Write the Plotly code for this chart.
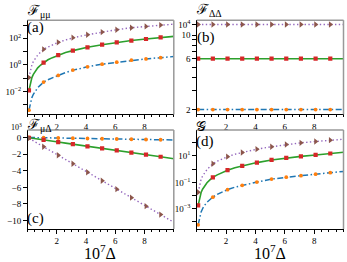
import plotly.graph_objects as go

# ---------------- data ----------------
x_line = [0.1, 0.2, 0.3, 0.4, 0.5, 0.7, 0.9, 1.1, 1.4, 1.7, 2.1, 2.6, 3.1, 3.6,
          4.1, 5.1, 6.1, 7.1, 8.1, 9.1, 10.0]
marker_idx = [0, 7, 10, 12, 14, 15, 16, 17, 18, 19]   # x = 0.1, 1.1, ..., 9.1

# (a) F_mumu
a_blue = [0.00038, 0.0015, 0.0034, 0.006, 0.0095, 0.019, 0.031, 0.05, 0.075, 0.11, 0.16,
          0.26, 0.40, 0.52, 0.71, 1.12, 1.58, 2.24, 2.8, 3.5, 4.2]
a_green = [0.012, 0.048, 0.11, 0.19, 0.30, 0.59, 0.97, 1.48, 2.4, 3.5, 5.5,
           8.4, 11.8, 16.0, 21.0, 33.0, 50.0, 68.0, 89.0, 118.0, 141.0]
a_purple = [0.11, 0.45, 1.0, 1.8, 2.8, 5.5, 9.1, 14.8, 22.0, 32.0, 50.0,
            76.0, 112.0, 145.0, 186.0, 295.0, 447.0, 631.0, 794.0, 1000.0, 1175.0]

# (b) F_DeltaDelta
b_blue = [2.0] * len(x_line)
b_green = [6.0] * len(x_line)
b_purple = [12.56] * len(x_line)

# (c) F_muDelta (x 10^3)
c_blue = [-0.003, -0.006, -0.009, -0.012, -0.015, -0.021, -0.027, -0.033, -0.042, -0.051, -0.063,
          -0.078, -0.093, -0.108, -0.123, -0.153, -0.183, -0.213, -0.243, -0.273, -0.30]
c_green = [-0.03, -0.06, -0.09, -0.11, -0.14, -0.19, -0.24, -0.29, -0.37, -0.45, -0.55,
           -0.68, -0.80, -0.93, -1.06, -1.31, -1.56, -1.82, -2.07, -2.32, -2.55]
c_purple = [-0.1, -0.2, -0.31, -0.41, -0.51, -0.71, -0.92, -1.12, -1.43, -1.73, -2.14,
            -2.65, -3.16, -3.67, -4.18, -5.2, -6.22, -7.24, -8.26, -9.28, -10.2]

# (d) G
d_blue = [0.00006, 0.00025, 0.00056, 0.001, 0.0016, 0.0031, 0.0051, 0.0076, 0.0123, 0.018, 0.028,
          0.043, 0.06, 0.082, 0.105, 0.178, 0.25, 0.32, 0.42, 0.54, 0.68]
d_green = [0.0018, 0.0075, 0.017, 0.03, 0.047, 0.093, 0.155, 0.237, 0.37, 0.55, 0.84,
           1.3, 1.78, 2.4, 3.16, 5.0, 7.1, 9.3, 12.0, 15.5, 19.0]
d_purple = [0.018, 0.075, 0.17, 0.3, 0.47, 0.93, 1.6, 2.57, 4.0, 5.9, 8.9,
            13.5, 18.6, 25.0, 33.0, 50.0, 74.0, 100.0, 126.0, 158.0, 186.0]

x_ticks = [2, 4, 6, 8]
a_ytick_vals = [1e-3, 1e-2, 1e-1, 1, 10, 100, 1000]
a_ytick_text = ["", "10<sup>−2</sup>", "", "10<sup>0</sup>", "", "10<sup>2</sup>", ""]
b_ytick_vals = [2, 3, 4, 5, 6, 7, 8, 9, 10, 12.56]
b_ytick_text = ["2", "", "", "", "6", "", "", "", "10", "10<sup>4</sup>"]
c_ytick_vals = [0, -2, -4, -6, -8, -10]
c_ytick_text = ["0", "−2", "−4", "−6", "−8", "−10"]
d_ytick_vals = [1e-4, 1e-3, 1e-2, 1e-1, 1, 10, 100]
d_ytick_text = ["", "10<sup>−3</sup>", "", "10<sup>−1</sup>", "", "10<sup>1</sup>", ""]

# ---------------- styling ----------------
W, H = 347, 262
FONT = "'Liberation Serif', 'DejaVu Serif', serif"
BLUE, ORANGE = "#1f77b4", "#ff7f0e"
GREEN, RED = "#2ca02c", "#d62728"
PURPLE, BROWN = "#9467bd", "#8c564b"

def px(x, y):
    return x / W, 1 - y / H

fig = go.Figure()

panels = [
    ("x", "y", a_blue, a_green, a_purple),
    ("x2", "y2", b_blue, b_green, b_purple),
    ("x3", "y3", c_blue, c_green, c_purple),
    ("x4", "y4", d_blue, d_green, d_purple),
]

for xa, ya, bl, gr, pu in panels:
    xm = [x_line[i] for i in marker_idx]
    fig.add_trace(go.Scatter(x=x_line, y=bl, mode="lines", xaxis=xa, yaxis=ya,
                             line=dict(color=BLUE, width=1.5, dash="6px,2.5px,1.5px,2.5px")))
    fig.add_trace(go.Scatter(x=x_line, y=gr, mode="lines", xaxis=xa, yaxis=ya,
                             line=dict(color=GREEN, width=1.6)))
    fig.add_trace(go.Scatter(x=x_line, y=pu, mode="lines", xaxis=xa, yaxis=ya,
                             line=dict(color=PURPLE, width=1.4, dash="1.4px,2.4px")))
    fig.add_trace(go.Scatter(x=xm, y=[bl[i] for i in marker_idx], mode="markers",
                             xaxis=xa, yaxis=ya,
                             marker=dict(color=ORANGE, size=3.8, symbol="circle", line=dict(width=0))))
    fig.add_trace(go.Scatter(x=xm, y=[gr[i] for i in marker_idx], mode="markers",
                             xaxis=xa, yaxis=ya,
                             marker=dict(color=RED, size=4.2, symbol="square", line=dict(width=0))))
    fig.add_trace(go.Scatter(x=xm, y=[pu[i] for i in marker_idx], mode="markers",
                             xaxis=xa, yaxis=ya,
                             marker=dict(color=BROWN, size=5.5, symbol="triangle-right", line=dict(width=0))))

xl = [px(27.5, 0)[0], px(173.8, 0)[0]]
xr = [px(196.7, 0)[0], px(343.5, 0)[0]]
yt = [px(0, 113.3)[1], px(0, 18.3)[1]]
yb = [px(0, 228.8)[1], px(0, 129)[1]]

tickfont = dict(family=FONT, size=9, color="black")

def xax(domain, anchor):
    return dict(domain=domain, anchor=anchor, range=[0, 10], tickvals=x_ticks,
                ticks="outside", ticklen=3.5, tickwidth=1, tickcolor="black",
                showline=True, linecolor="black", linewidth=1, mirror=False,
                showgrid=False, zeroline=False, tickfont=tickfont,
                minor=dict(dtick=0.5, tick0=0, ticks="outside", ticklen=2, tickcolor="black", showgrid=False))

def yax(domain, anchor, typ, rng, vals, text):
    return dict(domain=domain, anchor=anchor, type=typ, range=rng, tickvals=vals, ticktext=text,
                ticks="outside", ticklen=3.5, tickwidth=1, tickcolor="black",
                showline=True, linecolor="black", linewidth=1, mirror=False,
                showgrid=False, zeroline=False, tickfont=tickfont)

fig.update_layout(
    xaxis=xax(xl, "y"),
    yaxis=yax(yt, "x", "log", [-3.74, 3.37], a_ytick_vals, a_ytick_text),
    xaxis2=xax(xr, "y2"),
    yaxis2=yax(yt, "x2", "log", [0.255, 1.14], b_ytick_vals, b_ytick_text),
    xaxis3=xax(xl, "y3"),
    yaxis3=yax(yb, "x3", "linear", [-11.02, 0.9], c_ytick_vals, c_ytick_text),
    xaxis4=xax(xr, "y4"),
    yaxis4=yax(yb, "x4", "log", [-4.54, 2.97], d_ytick_vals, d_ytick_text),
)

shapes = []
for xd, yd in [(xl, yt), (xr, yt), (xl, yb), (xr, yb)]:
    shapes.append(dict(type="line", xref="paper", yref="paper", x0=xd[0], x1=xd[1], y0=yd[1], y1=yd[1],
                       line=dict(color="#999999", width=1.5)))
    shapes.append(dict(type="line", xref="paper", yref="paper", x0=xd[1], x1=xd[1], y0=yd[0], y1=yd[1],
                       line=dict(color="#999999", width=1.5)))

annots = []
def text(t, x, y, size, xanchor="left", yanchor="middle"):
    xp, yp = px(x, y)
    annots.append(dict(text=t, x=xp, y=yp, xref="paper", yref="paper", xanchor=xanchor,
                       yanchor=yanchor, showarrow=False, borderpad=0,
                       font=dict(family=FONT, size=size, color="black")))

text("ℱ<sub>μμ</sub>", 26, 10, 14)
text("ℱ<sub>ΔΔ</sub>", 195, 9, 14)
text("ℱ<sub>μΔ</sub>", 26, 124, 14)
text("10<sup>3</sup>", 10, 126, 8)
text("𝒢", 195, 125, 14)
text("(a)", 26, 25.5, 15)
text("(b)", 196, 36, 15)
text("(c)", 26, 218, 15)
text("(d)", 195, 141, 15)
text("10<sup>7</sup>Δ", 100.5, 252, 16, "center")
text("10<sup>7</sup>Δ", 270, 252, 16, "center")

fig.update_layout(width=W, height=H, margin=dict(l=0, r=0, t=0, b=0),
                  plot_bgcolor="white", paper_bgcolor="white", showlegend=False,
                  shapes=shapes, annotations=annots)

fig.write_html("out.html", config={"displayModeBar": False},
               post_script="document.body.style.margin='0';document.body.style.padding='0';")
